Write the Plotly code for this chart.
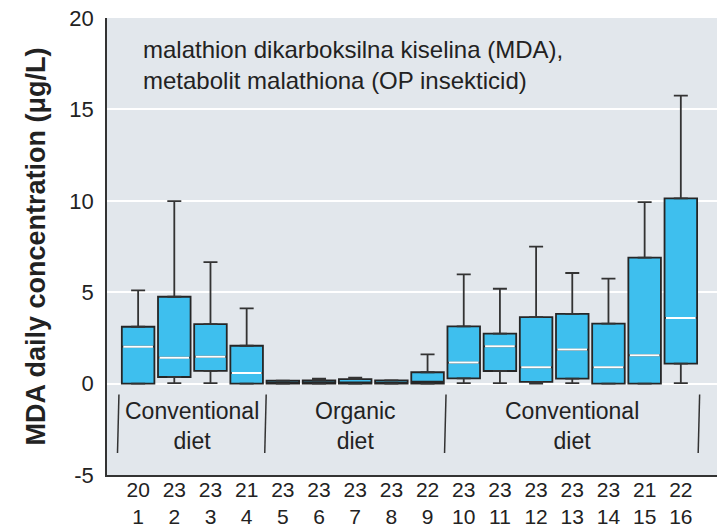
import plotly.graph_objects as go

# ---- data ----
positions = list(range(1, 17))
n_values = [20, 23, 23, 21, 23, 23, 23, 23, 22, 23, 23, 23, 23, 23, 21, 22]
q1 = [0.0, 0.36, 0.70, 0.0, 0.0, 0.0, 0.0, 0.0, 0.0, 0.29, 0.69, 0.09, 0.27, 0.0, 0.0, 1.09]
median = [2.02, 1.42, 1.47, 0.58, 0.05, 0.06, 0.07, 0.05, 0.10, 1.15, 2.04, 0.89, 1.86, 0.89, 1.55, 3.59]
q3 = [3.11, 4.75, 3.25, 2.07, 0.16, 0.18, 0.24, 0.18, 0.62, 3.13, 2.73, 3.64, 3.81, 3.28, 6.89, 10.13]
lower = [0.0, 0.03, 0.03, 0.0, 0.0, 0.0, 0.0, 0.0, 0.0, 0.03, 0.03, 0.0, 0.03, 0.0, 0.0, 0.03]
upper = [5.10, 9.98, 6.64, 4.11, 0.16, 0.27, 0.33, 0.18, 1.60, 5.97, 5.19, 7.49, 6.05, 5.74, 9.93, 15.75]

tick_labels = [f"{n}<br>{p}" for n, p in zip(n_values, positions)]
y_tickvals = [-5, 0, 5, 10, 15, 20]
y_ticktext = ["-5", "0", "5", "10", "15", "20"]

groups = ["Conventional<br>diet", "Organic<br>diet", "Conventional<br>diet"]
group_centers = [2.5, 7.0, 13.0]
separators = [0.43, 4.5, 9.47, 16.48]

note_text = "malathion dikarboksilna kiselina (MDA),<br>metabolit malathiona (OP insekticid)"
y_title = "MDA daily concentration (μg/L)"

# ---- styles ----
FILL = "#3ebfee"
DARK = "#262626"
BG = "#e2e7ec"
FONT = "Liberation Sans, Arial, Helvetica, sans-serif"
TXT = "#222222"

fig = go.Figure()

# upper whiskers with caps
fig.add_trace(go.Scatter(
    x=positions, y=q3, mode="markers",
    marker=dict(size=1, color="rgba(0,0,0,0)"),
    error_y=dict(type="data", symmetric=False,
                 array=[u - t for u, t in zip(upper, q3)],
                 arrayminus=[0] * len(q3),
                 width=7, thickness=1.8, color="#333333"),
    hoverinfo="skip", showlegend=False))
# lower whiskers with caps
fig.add_trace(go.Scatter(
    x=positions, y=q1, mode="markers",
    marker=dict(size=1, color="rgba(0,0,0,0)"),
    error_y=dict(type="data", symmetric=False,
                 array=[0] * len(q1),
                 arrayminus=[a - b for a, b in zip(q1, lower)],
                 width=7, thickness=1.8, color="#333333"),
    hoverinfo="skip", showlegend=False))

# boxes (whiskers drawn above)
fig.add_trace(go.Box(
    x=positions, q1=q1, median=median, q3=q3,
    lowerfence=q1, upperfence=q3,
    width=0.9, fillcolor=FILL,
    line=dict(color=DARK, width=1.8),
    boxpoints=False, showlegend=False))

# white median lines (only where the box is tall enough to show one)
vis = [i for i in range(len(positions)) if q3[i] - q1[i] > 0.7]
med_x = [positions[i] for i in vis]
med_y = [median[i] for i in vis]
fig.add_trace(go.Box(
    x=med_x, q1=med_y, median=med_y, q3=med_y,
    lowerfence=med_y, upperfence=med_y,
    width=0.82, fillcolor="rgba(0,0,0,0)",
    line=dict(color="white", width=2),
    boxpoints=False, showlegend=False, hoverinfo="skip"))

# group labels
for txt, cx in zip(groups, group_centers):
    fig.add_annotation(x=cx, y=-2.3, xref="x", yref="y", text=txt,
                       showarrow=False, xanchor="center", yanchor="middle",
                       font=dict(family=FONT, size=23, color=TXT))
# separators
for sx in separators:
    fig.add_shape(type="line", xref="x", yref="y",
                  x0=sx + 0.04, y0=-0.6, x1=sx, y1=-3.8,
                  line=dict(color="#333333", width=1.5))

fig.add_annotation(x=0.055, y=17.43, xref="paper", yref="y", text=note_text,
                   showarrow=False, xanchor="left", yanchor="middle", align="left",
                   font=dict(family=FONT, size=24, color=TXT))

fig.update_layout(
    width=717, height=532,
    margin=dict(l=107, r=0, t=18, b=57),
    paper_bgcolor="white", plot_bgcolor=BG,
    boxmode="overlay", showlegend=False,
    font=dict(family=FONT, color=TXT),
    xaxis=dict(range=[0.14, 17.0], tickmode="array", tickvals=positions,
               ticktext=tick_labels, showgrid=False, zeroline=False,
               showline=True, linecolor="#333333", linewidth=1.5,
               ticks="", ticklabelstandoff=-5, automargin=False,
               tickfont=dict(family=FONT, size=21, color=TXT)),
    yaxis=dict(range=[-5, 20], tickmode="array", tickvals=y_tickvals,
               ticktext=y_ticktext, showgrid=True,
               gridcolor="white", gridwidth=2, zeroline=False,
               showline=True, linecolor="#333333", linewidth=1.5,
               ticks="", ticklabelstandoff=7, automargin=False,
               tickfont=dict(family=FONT, size=22, color=TXT),
               title=dict(text=f"<b>{y_title}</b>", standoff=16,
                          font=dict(family=FONT, size=27, color=TXT))),
)

fig.write_html("out.html", config={"displayModeBar": False},
               post_script="document.body.style.margin='0';")
